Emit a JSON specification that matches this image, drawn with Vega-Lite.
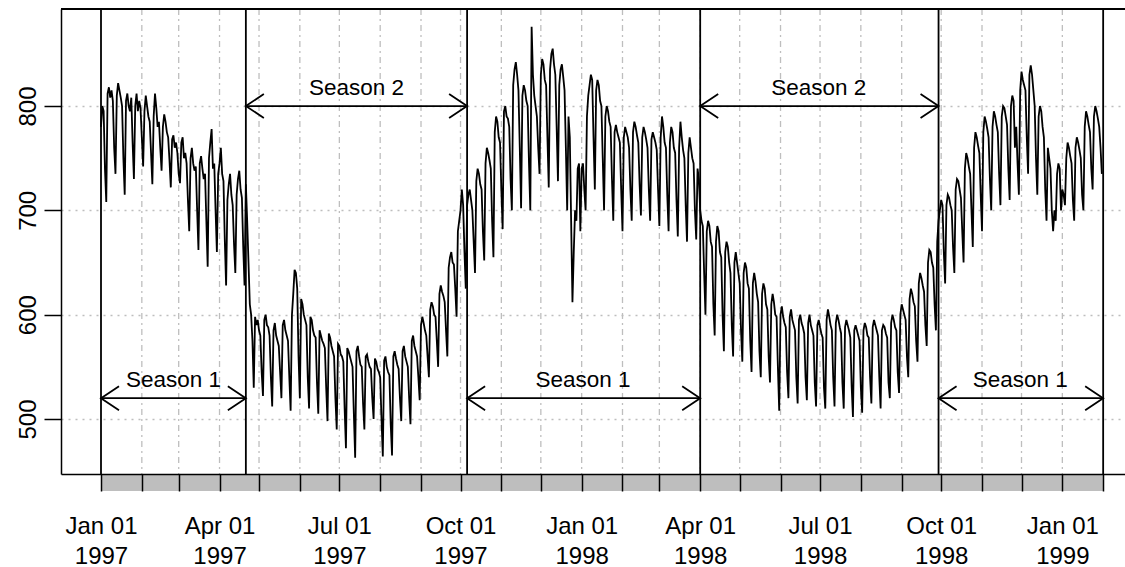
{
  "$schema": "https://vega.github.io/schema/vega-lite/v6.json",
  "width": 1064,
  "height": 465,
  "autosize": {"type": "none"},
  "padding": {"left": 61, "top": 9, "right": 0, "bottom": 93},
  "background": "white",
  "config": {"view": {"stroke": null}, "font": "Liberation Sans"},
  "layer": [
    {
      "data": {"values": [{"m":"1997-02-01"},{"m":"1997-03-01"},{"m":"1997-04-01"},{"m":"1997-05-01"},{"m":"1997-06-01"},{"m":"1997-07-01"},{"m":"1997-08-01"},{"m":"1997-09-01"},{"m":"1997-10-01"},{"m":"1997-11-01"},{"m":"1997-12-01"},{"m":"1998-01-01"},{"m":"1998-02-01"},{"m":"1998-03-01"},{"m":"1998-04-01"},{"m":"1998-05-01"},{"m":"1998-06-01"},{"m":"1998-07-01"},{"m":"1998-08-01"},{"m":"1998-09-01"},{"m":"1998-10-01"},{"m":"1998-11-01"},{"m":"1998-12-01"},{"m":"1999-01-01"}]},
      "mark": {"type": "rule", "color": "#bebebe", "strokeWidth": 1.3, "strokeDash": [6, 4, 2, 4]},
      "encoding": {
        "x": {"field": "m", "type": "temporal", "title": null, "scale": {"type": "utc", "domain": [{"year":1996,"month":12,"date":1,"hours":15,"utc":true},{"year":1999,"month":2,"date":17,"hours":14,"utc":true}]}}
      }
    },
    {
      "data": {"values": [{}]},
      "mark": {"type": "rect", "color": "#bebebe"},
      "encoding": {
        "x": {"datum": {"year":1997,"month":1,"date":1,"utc":true}, "type": "temporal", "title": null, "scale": {"type": "utc", "domain": [{"year":1996,"month":12,"date":1,"hours":15,"utc":true},{"year":1999,"month":2,"date":17,"hours":14,"utc":true}]}},
        "x2": {"datum": {"year":1999,"month":2,"date":1,"utc":true}},
        "y": {"datum": 447.3, "type": "quantitative", "title": null, "scale": {"domain": [447.3, 893], "nice": false, "zero": false}},
        "y2": {"datum": 431}
      }
    },
    {
      "data": {
        "values": "d,v\n1997-01-01,780\n1997-01-02,800\n1997-01-03,795\n1997-01-04,740\n1997-01-05,708\n1997-01-06,812\n1997-01-07,818\n1997-01-08,808\n1997-01-09,815\n1997-01-10,805\n1997-01-11,760\n1997-01-12,735\n1997-01-13,810\n1997-01-14,822\n1997-01-15,815\n1997-01-16,808\n1997-01-17,800\n1997-01-18,750\n1997-01-19,715\n1997-01-20,805\n1997-01-21,812\n1997-01-22,800\n1997-01-23,795\n1997-01-24,808\n1997-01-25,765\n1997-01-26,730\n1997-01-27,800\n1997-01-28,812\n1997-01-29,795\n1997-01-30,805\n1997-01-31,798\n1997-02-01,770\n1997-02-02,742\n1997-02-03,795\n1997-02-04,810\n1997-02-05,800\n1997-02-06,790\n1997-02-07,785\n1997-02-08,755\n1997-02-09,725\n1997-02-10,790\n1997-02-11,812\n1997-02-12,798\n1997-02-13,780\n1997-02-14,785\n1997-02-15,760\n1997-02-16,738\n1997-02-17,780\n1997-02-18,792\n1997-02-19,785\n1997-02-20,775\n1997-02-21,770\n1997-02-22,748\n1997-02-23,722\n1997-02-24,768\n1997-02-25,772\n1997-02-26,760\n1997-02-27,765\n1997-02-28,755\n1997-03-01,735\n1997-03-02,726\n1997-03-03,765\n1997-03-04,770\n1997-03-05,750\n1997-03-06,755\n1997-03-07,745\n1997-03-08,710\n1997-03-09,680\n1997-03-10,750\n1997-03-11,760\n1997-03-12,745\n1997-03-13,738\n1997-03-14,742\n1997-03-15,700\n1997-03-16,662\n1997-03-17,745\n1997-03-18,752\n1997-03-19,740\n1997-03-20,730\n1997-03-21,735\n1997-03-22,690\n1997-03-23,646\n1997-03-24,750\n1997-03-25,765\n1997-03-26,778\n1997-03-27,740\n1997-03-28,745\n1997-03-29,700\n1997-03-30,660\n1997-03-31,735\n1997-04-01,745\n1997-04-02,760\n1997-04-03,735\n1997-04-04,728\n1997-04-05,672\n1997-04-06,628\n1997-04-07,710\n1997-04-08,725\n1997-04-09,735\n1997-04-10,715\n1997-04-11,705\n1997-04-12,668\n1997-04-13,640\n1997-04-14,715\n1997-04-15,730\n1997-04-16,738\n1997-04-17,720\n1997-04-18,712\n1997-04-19,665\n1997-04-20,628\n1997-04-21,725\n1997-04-22,690\n1997-04-23,650\n1997-04-24,610\n1997-04-25,600\n1997-04-26,575\n1997-04-27,530\n1997-04-28,598\n1997-04-29,590\n1997-04-30,595\n1997-05-01,585\n1997-05-02,580\n1997-05-03,545\n1997-05-04,522\n1997-05-05,595\n1997-05-06,600\n1997-05-07,590\n1997-05-08,588\n1997-05-09,580\n1997-05-10,540\n1997-05-11,512\n1997-05-12,585\n1997-05-13,592\n1997-05-14,580\n1997-05-15,575\n1997-05-16,570\n1997-05-17,545\n1997-05-18,520\n1997-05-19,590\n1997-05-20,595\n1997-05-21,585\n1997-05-22,580\n1997-05-23,575\n1997-05-24,540\n1997-05-25,508\n1997-05-26,600\n1997-05-27,620\n1997-05-28,643\n1997-05-29,640\n1997-05-30,625\n1997-05-31,560\n1997-06-01,520\n1997-06-02,615\n1997-06-03,610\n1997-06-04,600\n1997-06-05,595\n1997-06-06,590\n1997-06-07,540\n1997-06-08,510\n1997-06-09,598\n1997-06-10,595\n1997-06-11,585\n1997-06-12,580\n1997-06-13,578\n1997-06-14,535\n1997-06-15,505\n1997-06-16,585\n1997-06-17,580\n1997-06-18,575\n1997-06-19,572\n1997-06-20,568\n1997-06-21,530\n1997-06-22,498\n1997-06-23,582\n1997-06-24,578\n1997-06-25,570\n1997-06-26,565\n1997-06-27,560\n1997-06-28,520\n1997-06-29,490\n1997-06-30,572\n1997-07-01,570\n1997-07-02,562\n1997-07-03,560\n1997-07-04,555\n1997-07-05,510\n1997-07-06,472\n1997-07-07,568\n1997-07-08,565\n1997-07-09,560\n1997-07-10,555\n1997-07-11,550\n1997-07-12,505\n1997-07-13,463\n1997-07-14,565\n1997-07-15,570\n1997-07-16,560\n1997-07-17,552\n1997-07-18,550\n1997-07-19,515\n1997-07-20,490\n1997-07-21,560\n1997-07-22,562\n1997-07-23,555\n1997-07-24,550\n1997-07-25,548\n1997-07-26,520\n1997-07-27,500\n1997-07-28,558\n1997-07-29,555\n1997-07-30,548\n1997-07-31,545\n1997-08-01,540\n1997-08-02,500\n1997-08-03,464\n1997-08-04,556\n1997-08-05,560\n1997-08-06,550\n1997-08-07,545\n1997-08-08,542\n1997-08-09,495\n1997-08-10,465\n1997-08-11,560\n1997-08-12,565\n1997-08-13,558\n1997-08-14,552\n1997-08-15,548\n1997-08-16,520\n1997-08-17,498\n1997-08-18,565\n1997-08-19,570\n1997-08-20,560\n1997-08-21,555\n1997-08-22,550\n1997-08-23,520\n1997-08-24,495\n1997-08-25,575\n1997-08-26,580\n1997-08-27,570\n1997-08-28,565\n1997-08-29,560\n1997-08-30,540\n1997-08-31,518\n1997-09-01,590\n1997-09-02,598\n1997-09-03,592\n1997-09-04,585\n1997-09-05,580\n1997-09-06,560\n1997-09-07,540\n1997-09-08,605\n1997-09-09,612\n1997-09-10,608\n1997-09-11,600\n1997-09-12,598\n1997-09-13,575\n1997-09-14,550\n1997-09-15,620\n1997-09-16,628\n1997-09-17,622\n1997-09-18,618\n1997-09-19,612\n1997-09-20,585\n1997-09-21,560\n1997-09-22,645\n1997-09-23,655\n1997-09-24,660\n1997-09-25,650\n1997-09-26,648\n1997-09-27,625\n1997-09-28,598\n1997-09-29,680\n1997-09-30,690\n1997-10-01,700\n1997-10-02,720\n1997-10-03,705\n1997-10-04,660\n1997-10-05,625\n1997-10-06,705\n1997-10-07,715\n1997-10-08,720\n1997-10-09,710\n1997-10-10,700\n1997-10-11,670\n1997-10-12,640\n1997-10-13,728\n1997-10-14,740\n1997-10-15,735\n1997-10-16,725\n1997-10-17,720\n1997-10-18,680\n1997-10-19,652\n1997-10-20,745\n1997-10-21,760\n1997-10-22,755\n1997-10-23,748\n1997-10-24,740\n1997-10-25,690\n1997-10-26,655\n1997-10-27,775\n1997-10-28,790\n1997-10-29,785\n1997-10-30,770\n1997-10-31,765\n1997-11-01,720\n1997-11-02,682\n1997-11-03,795\n1997-11-04,800\n1997-11-05,790\n1997-11-06,788\n1997-11-07,780\n1997-11-08,730\n1997-11-09,700\n1997-11-10,820\n1997-11-11,835\n1997-11-12,842\n1997-11-13,830\n1997-11-14,815\n1997-11-15,760\n1997-11-16,702\n1997-11-17,810\n1997-11-18,820\n1997-11-19,815\n1997-11-20,805\n1997-11-21,800\n1997-11-22,745\n1997-11-23,700\n1997-11-24,876\n1997-11-25,830\n1997-11-26,810\n1997-11-27,800\n1997-11-28,790\n1997-11-29,760\n1997-11-30,735\n1997-12-01,830\n1997-12-02,845\n1997-12-03,840\n1997-12-04,825\n1997-12-05,820\n1997-12-06,770\n1997-12-07,722\n1997-12-08,835\n1997-12-09,850\n1997-12-10,855\n1997-12-11,840\n1997-12-12,830\n1997-12-13,780\n1997-12-14,728\n1997-12-15,820\n1997-12-16,835\n1997-12-17,840\n1997-12-18,828\n1997-12-19,815\n1997-12-20,760\n1997-12-21,700\n1997-12-22,790\n1997-12-23,770\n1997-12-24,690\n1997-12-25,612\n1997-12-26,660\n1997-12-27,700\n1997-12-28,690\n1997-12-29,740\n1997-12-30,745\n1997-12-31,680\n1998-01-01,740\n1998-01-02,745\n1998-01-03,720\n1998-01-04,700\n1998-01-05,790\n1998-01-06,810\n1998-01-07,820\n1998-01-08,830\n1998-01-09,825\n1998-01-10,770\n1998-01-11,720\n1998-01-12,815\n1998-01-13,825\n1998-01-14,820\n1998-01-15,805\n1998-01-16,800\n1998-01-17,750\n1998-01-18,700\n1998-01-19,790\n1998-01-20,800\n1998-01-21,795\n1998-01-22,785\n1998-01-23,780\n1998-01-24,730\n1998-01-25,690\n1998-01-26,775\n1998-01-27,782\n1998-01-28,775\n1998-01-29,770\n1998-01-30,765\n1998-01-31,720\n1998-02-01,680\n1998-02-02,770\n1998-02-03,780\n1998-02-04,775\n1998-02-05,770\n1998-02-06,760\n1998-02-07,720\n1998-02-08,690\n1998-02-09,775\n1998-02-10,785\n1998-02-11,780\n1998-02-12,772\n1998-02-13,765\n1998-02-14,725\n1998-02-15,695\n1998-02-16,770\n1998-02-17,780\n1998-02-18,775\n1998-02-19,768\n1998-02-20,760\n1998-02-21,720\n1998-02-22,690\n1998-02-23,768\n1998-02-24,775\n1998-02-25,770\n1998-02-26,765\n1998-02-27,758\n1998-02-28,720\n1998-03-01,685\n1998-03-02,770\n1998-03-03,790\n1998-03-04,780\n1998-03-05,765\n1998-03-06,760\n1998-03-07,715\n1998-03-08,680\n1998-03-09,765\n1998-03-10,780\n1998-03-11,775\n1998-03-12,760\n1998-03-13,755\n1998-03-14,710\n1998-03-15,675\n1998-03-16,760\n1998-03-17,785\n1998-03-18,770\n1998-03-19,758\n1998-03-20,750\n1998-03-21,705\n1998-03-22,670\n1998-03-23,755\n1998-03-24,770\n1998-03-25,760\n1998-03-26,750\n1998-03-27,745\n1998-03-28,700\n1998-03-29,672\n1998-03-30,740\n1998-03-31,730\n1998-04-01,700\n1998-04-02,690\n1998-04-03,685\n1998-04-04,640\n1998-04-05,600\n1998-04-06,680\n1998-04-07,690\n1998-04-08,685\n1998-04-09,670\n1998-04-10,665\n1998-04-11,610\n1998-04-12,580\n1998-04-13,670\n1998-04-14,685\n1998-04-15,680\n1998-04-16,660\n1998-04-17,655\n1998-04-18,600\n1998-04-19,565\n1998-04-20,660\n1998-04-21,670\n1998-04-22,665\n1998-04-23,650\n1998-04-24,640\n1998-04-25,590\n1998-04-26,560\n1998-04-27,650\n1998-04-28,660\n1998-04-29,650\n1998-04-30,640\n1998-05-01,630\n1998-05-02,585\n1998-05-03,555\n1998-05-04,640\n1998-05-05,650\n1998-05-06,645\n1998-05-07,630\n1998-05-08,625\n1998-05-09,575\n1998-05-10,545\n1998-05-11,630\n1998-05-12,640\n1998-05-13,632\n1998-05-14,620\n1998-05-15,612\n1998-05-16,565\n1998-05-17,540\n1998-05-18,620\n1998-05-19,630\n1998-05-20,625\n1998-05-21,610\n1998-05-22,605\n1998-05-23,560\n1998-05-24,535\n1998-05-25,610\n1998-05-26,620\n1998-05-27,612\n1998-05-28,600\n1998-05-29,598\n1998-05-30,550\n1998-05-31,508\n1998-06-01,600\n1998-06-02,608\n1998-06-03,598\n1998-06-04,592\n1998-06-05,588\n1998-06-06,545\n1998-06-07,520\n1998-06-08,598\n1998-06-09,605\n1998-06-10,595\n1998-06-11,590\n1998-06-12,585\n1998-06-13,540\n1998-06-14,515\n1998-06-15,595\n1998-06-16,600\n1998-06-17,592\n1998-06-18,588\n1998-06-19,582\n1998-06-20,540\n1998-06-21,518\n1998-06-22,592\n1998-06-23,600\n1998-06-24,590\n1998-06-25,585\n1998-06-26,580\n1998-06-27,535\n1998-06-28,512\n1998-06-29,590\n1998-06-30,595\n1998-07-01,588\n1998-07-02,582\n1998-07-03,578\n1998-07-04,530\n1998-07-05,510\n1998-07-06,595\n1998-07-07,605\n1998-07-08,598\n1998-07-09,590\n1998-07-10,585\n1998-07-11,540\n1998-07-12,512\n1998-07-13,592\n1998-07-14,600\n1998-07-15,595\n1998-07-16,588\n1998-07-17,582\n1998-07-18,535\n1998-07-19,510\n1998-07-20,588\n1998-07-21,595\n1998-07-22,590\n1998-07-23,585\n1998-07-24,578\n1998-07-25,532\n1998-07-26,502\n1998-07-27,585\n1998-07-28,590\n1998-07-29,585\n1998-07-30,580\n1998-07-31,575\n1998-08-01,530\n1998-08-02,506\n1998-08-03,585\n1998-08-04,592\n1998-08-05,588\n1998-08-06,580\n1998-08-07,578\n1998-08-08,540\n1998-08-09,515\n1998-08-10,588\n1998-08-11,595\n1998-08-12,590\n1998-08-13,585\n1998-08-14,580\n1998-08-15,540\n1998-08-16,510\n1998-08-17,585\n1998-08-18,590\n1998-08-19,588\n1998-08-20,582\n1998-08-21,578\n1998-08-22,535\n1998-08-23,520\n1998-08-24,592\n1998-08-25,600\n1998-08-26,595\n1998-08-27,588\n1998-08-28,585\n1998-08-29,545\n1998-08-30,525\n1998-08-31,600\n1998-09-01,610\n1998-09-02,605\n1998-09-03,600\n1998-09-04,595\n1998-09-05,560\n1998-09-06,540\n1998-09-07,615\n1998-09-08,625\n1998-09-09,620\n1998-09-10,612\n1998-09-11,608\n1998-09-12,575\n1998-09-13,555\n1998-09-14,630\n1998-09-15,640\n1998-09-16,635\n1998-09-17,628\n1998-09-18,622\n1998-09-19,590\n1998-09-20,570\n1998-09-21,650\n1998-09-22,662\n1998-09-23,660\n1998-09-24,650\n1998-09-25,645\n1998-09-26,610\n1998-09-27,585\n1998-09-28,670\n1998-09-29,690\n1998-09-30,700\n1998-10-01,710\n1998-10-02,705\n1998-10-03,660\n1998-10-04,630\n1998-10-05,705\n1998-10-06,715\n1998-10-07,712\n1998-10-08,705\n1998-10-09,700\n1998-10-10,665\n1998-10-11,640\n1998-10-12,720\n1998-10-13,730\n1998-10-14,728\n1998-10-15,720\n1998-10-16,712\n1998-10-17,680\n1998-10-18,650\n1998-10-19,740\n1998-10-20,755\n1998-10-21,750\n1998-10-22,742\n1998-10-23,735\n1998-10-24,700\n1998-10-25,665\n1998-10-26,760\n1998-10-27,775\n1998-10-28,770\n1998-10-29,762\n1998-10-30,755\n1998-10-31,715\n1998-11-01,680\n1998-11-02,775\n1998-11-03,790\n1998-11-04,785\n1998-11-05,778\n1998-11-06,770\n1998-11-07,730\n1998-11-08,700\n1998-11-09,780\n1998-11-10,795\n1998-11-11,790\n1998-11-12,782\n1998-11-13,775\n1998-11-14,735\n1998-11-15,705\n1998-11-16,790\n1998-11-17,800\n1998-11-18,798\n1998-11-19,790\n1998-11-20,782\n1998-11-21,740\n1998-11-22,710\n1998-11-23,800\n1998-11-24,810\n1998-11-25,805\n1998-11-26,760\n1998-11-27,780\n1998-11-28,745\n1998-11-29,715\n1998-11-30,815\n1998-12-01,833\n1998-12-02,825\n1998-12-03,820\n1998-12-04,815\n1998-12-05,770\n1998-12-06,735\n1998-12-07,830\n1998-12-08,839\n1998-12-09,830\n1998-12-10,815\n1998-12-11,800\n1998-12-12,750\n1998-12-13,715\n1998-12-14,790\n1998-12-15,800\n1998-12-16,795\n1998-12-17,780\n1998-12-18,770\n1998-12-19,720\n1998-12-20,690\n1998-12-21,760\n1998-12-22,750\n1998-12-23,740\n1998-12-24,700\n1998-12-25,680\n1998-12-26,700\n1998-12-27,690\n1998-12-28,735\n1998-12-29,745\n1998-12-30,740\n1998-12-31,700\n1999-01-01,720\n1999-01-02,715\n1999-01-03,705\n1999-01-04,750\n1999-01-05,765\n1999-01-06,760\n1999-01-07,752\n1999-01-08,745\n1999-01-09,710\n1999-01-10,690\n1999-01-11,760\n1999-01-12,770\n1999-01-13,765\n1999-01-14,758\n1999-01-15,750\n1999-01-16,715\n1999-01-17,700\n1999-01-18,780\n1999-01-19,795\n1999-01-20,790\n1999-01-21,782\n1999-01-22,775\n1999-01-23,740\n1999-01-24,720\n1999-01-25,790\n1999-01-26,800\n1999-01-27,795\n1999-01-28,788\n1999-01-29,780\n1999-01-30,760\n1999-01-31,735",
        "format": {"type": "csv", "parse": {"d": "date", "v": "number"}}
      },
      "mark": {"type": "line", "color": "black", "strokeWidth": 1.8},
      "encoding": {
        "x": {
          "field": "d", "type": "temporal", "title": null,
          "scale": {"type": "utc", "domain": [{"year":1996,"month":12,"date":1,"hours":15,"utc":true},{"year":1999,"month":2,"date":17,"hours":14,"utc":true}]},
          "axis": {
            "values": [{"year":1997,"month":1,"date":1,"utc":true},{"year":1997,"month":2,"date":1,"utc":true},{"year":1997,"month":3,"date":1,"utc":true},{"year":1997,"month":4,"date":1,"utc":true},{"year":1997,"month":5,"date":1,"utc":true},{"year":1997,"month":6,"date":1,"utc":true},{"year":1997,"month":7,"date":1,"utc":true},{"year":1997,"month":8,"date":1,"utc":true},{"year":1997,"month":9,"date":1,"utc":true},{"year":1997,"month":10,"date":1,"utc":true},{"year":1997,"month":11,"date":1,"utc":true},{"year":1997,"month":12,"date":1,"utc":true},{"year":1998,"month":1,"date":1,"utc":true},{"year":1998,"month":2,"date":1,"utc":true},{"year":1998,"month":3,"date":1,"utc":true},{"year":1998,"month":4,"date":1,"utc":true},{"year":1998,"month":5,"date":1,"utc":true},{"year":1998,"month":6,"date":1,"utc":true},{"year":1998,"month":7,"date":1,"utc":true},{"year":1998,"month":8,"date":1,"utc":true},{"year":1998,"month":9,"date":1,"utc":true},{"year":1998,"month":10,"date":1,"utc":true},{"year":1998,"month":11,"date":1,"utc":true},{"year":1998,"month":12,"date":1,"utc":true},{"year":1999,"month":1,"date":1,"utc":true},{"year":1999,"month":2,"date":1,"utc":true}],
            "labelExpr": "utcmonth(datum.value) % 3 == 0 ? [utcFormat(datum.value, '%b %d'), utcFormat(datum.value, '%Y')] : ''",
            "grid": false,
            "tickSize": 17, "tickWidth": 1.5, "tickColor": "black",
            "domainColor": "black", "domainWidth": 1.5,
            "labelFont": "Liberation Sans", "labelFontSize": 24, "labelColor": "black",
            "labelPadding": 23, "labelBaseline": "top", "labelLineHeight": 30, "labelAlign": "center",
            "labelOverlap": false, "labelFlush": false, "labelBound": false,
            "zindex": 1
          }
        },
        "y": {
          "field": "v", "type": "quantitative", "title": null,
          "scale": {"domain": [447.3, 893], "nice": false, "zero": false},
          "axis": {
            "values": [500, 600, 700, 800],
            "grid": true, "gridDash": [2, 5], "gridColor": "#bebebe", "gridWidth": 1.3,
            "tickSize": 17, "tickWidth": 1.5, "tickColor": "black",
            "domainColor": "black", "domainWidth": 1.5,
            "labelFont": "Liberation Sans", "labelFontSize": 24, "labelColor": "black",
            "labelAngle": 270, "labelAlign": "center", "labelBaseline": "alphabetic", "labelPadding": 9
          }
        }
      }
    },
    {
      "data": {"values": [{"d":"1997-01-01"},{"d":"1997-04-21"},{"d":"1997-10-06"},{"d":"1998-04-01"},{"d":"1998-09-29"},{"d":"1999-02-01"}]},
      "mark": {"type": "rule", "color": "black", "strokeWidth": 1.8},
      "encoding": {
        "x": {"field": "d", "type": "temporal", "title": null, "scale": {"type": "utc", "domain": [{"year":1996,"month":12,"date":1,"hours":15,"utc":true},{"year":1999,"month":2,"date":17,"hours":14,"utc":true}]}}
      }
    },
    {
      "data": {"name": "seasons"},
      "mark": {"type": "rule", "color": "black", "strokeWidth": 1.8},
      "encoding": {
        "x": {"field": "s", "type": "temporal", "title": null, "scale": {"type": "utc", "domain": [{"year":1996,"month":12,"date":1,"hours":15,"utc":true},{"year":1999,"month":2,"date":17,"hours":14,"utc":true}]}},
        "x2": {"field": "e"},
        "y": {"field": "y", "type": "quantitative", "title": null, "scale": {"domain": [447.3, 893], "nice": false, "zero": false}}
      }
    },
    {
      "data": {"name": "seasons"},
      "mark": {"type": "point", "shape": "M1.5,-1L0,0L1.5,1", "size": 576, "filled": false, "stroke": "black", "strokeWidth": 1.8, "opacity": 1},
      "encoding": {
        "x": {"field": "s", "type": "temporal", "title": null, "scale": {"type": "utc", "domain": [{"year":1996,"month":12,"date":1,"hours":15,"utc":true},{"year":1999,"month":2,"date":17,"hours":14,"utc":true}]}},
        "y": {"field": "y", "type": "quantitative", "title": null, "scale": {"domain": [447.3, 893], "nice": false, "zero": false}}
      }
    },
    {
      "data": {"name": "seasons"},
      "mark": {"type": "point", "shape": "M-1.5,-1L0,0L-1.5,1", "size": 576, "filled": false, "stroke": "black", "strokeWidth": 1.8, "opacity": 1},
      "encoding": {
        "x": {"field": "e", "type": "temporal", "title": null, "scale": {"type": "utc", "domain": [{"year":1996,"month":12,"date":1,"hours":15,"utc":true},{"year":1999,"month":2,"date":17,"hours":14,"utc":true}]}},
        "y": {"field": "y", "type": "quantitative", "title": null, "scale": {"domain": [447.3, 893], "nice": false, "zero": false}}
      }
    },
    {
      "data": {"name": "seasons"},
      "mark": {"type": "text", "baseline": "alphabetic", "align": "center", "dy": -11, "fontSize": 22.5, "font": "Liberation Sans", "color": "black"},
      "encoding": {
        "x": {"field": "mid", "type": "temporal", "title": null, "scale": {"type": "utc", "domain": [{"year":1996,"month":12,"date":1,"hours":15,"utc":true},{"year":1999,"month":2,"date":17,"hours":14,"utc":true}]}},
        "y": {"field": "y", "type": "quantitative", "title": null, "scale": {"domain": [447.3, 893], "nice": false, "zero": false}},
        "text": {"field": "lab"}
      }
    },
    {
      "data": {"values": [{}]},
      "mark": {"type": "rule", "color": "black", "strokeWidth": 1.8},
      "encoding": {
        "y": {"datum": 893, "type": "quantitative", "title": null, "scale": {"domain": [447.3, 893], "nice": false, "zero": false}}
      }
    }
  ],
  "datasets": {
    "seasons": [
      {"s": "1997-01-01", "e": "1997-04-21", "mid": "1997-02-25", "y": 520, "lab": "Season 1"},
      {"s": "1997-04-21", "e": "1997-10-06", "mid": "1997-07-14", "y": 800, "lab": "Season 2"},
      {"s": "1997-10-06", "e": "1998-04-01", "mid": "1998-01-02", "y": 520, "lab": "Season 1"},
      {"s": "1998-04-01", "e": "1998-09-29", "mid": "1998-06-30", "y": 800, "lab": "Season 2"},
      {"s": "1998-09-29", "e": "1999-02-01", "mid": "1998-11-30", "y": 520, "lab": "Season 1"}
    ]
  }
}
